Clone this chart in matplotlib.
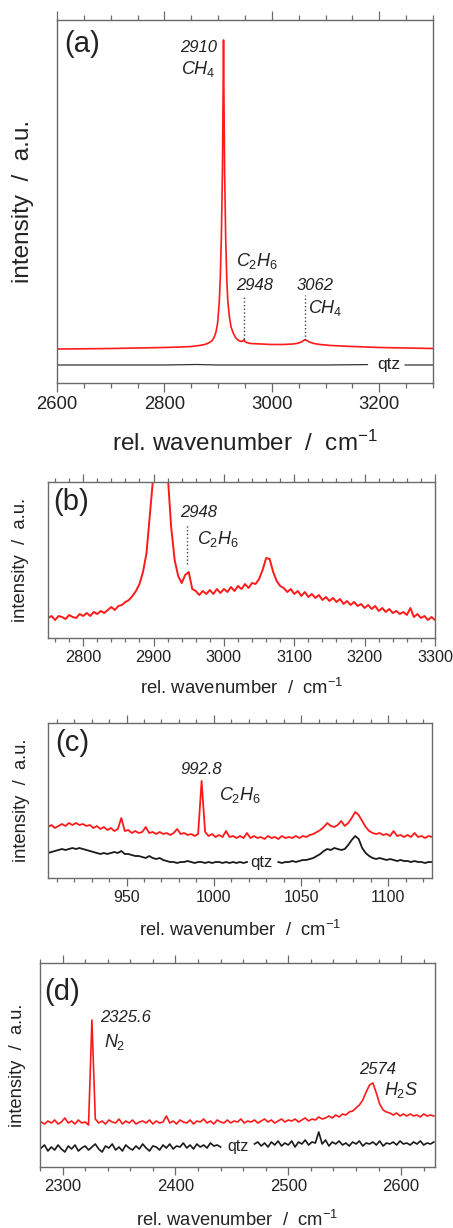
import numpy as np
import matplotlib
matplotlib.use("Agg")
import matplotlib.pyplot as plt
from matplotlib.ticker import MultipleLocator

plt.rcParams['font.family'] = ['Liberation Sans', 'DejaVu Sans']
plt.rcParams['mathtext.fontset'] = 'custom'
plt.rcParams['mathtext.rm'] = 'Liberation Sans'
plt.rcParams['mathtext.it'] = 'Liberation Sans:italic'

W, H = 453, 1228
FRAME = '#6a6a6a'
TXT = '#222222'
RED = '#ff1a1a'
BLK = '#1a1a1a'

# ---- panel (a): overview, 2600-3300 ----
a_x = [2600, 2650, 2700, 2750, 2800, 2830, 2850, 2865, 2875, 2882, 2888, 2892,
       2896, 2899, 2902, 2904, 2906, 2908, 2909, 2910, 2911, 2912, 2914, 2916,
       2918, 2921, 2924, 2928, 2933, 2938, 2943, 2946, 2948, 2950, 2953, 2960,
       2980, 3000, 3020, 3040, 3050, 3055, 3059, 3062, 3065, 3070, 3078, 3090,
       3110, 3150, 3200, 3250, 3300]
a_red = [34, 34.2, 34.5, 35, 35.5, 36, 36.5, 37.5, 38.5, 40, 42, 45,
         51, 60, 80, 105, 146, 212, 276, 343, 276, 212, 146, 105,
         82, 66, 56, 50, 45, 42.5, 41.5, 42, 43.5, 41.5, 40.5, 39.5,
         39, 38.5, 38.5, 39, 40, 41, 42.5, 43.5, 42.5, 41, 39.5, 38.5,
         37.5, 36.5, 35.5, 35, 34.5]
a_qtz_x = [2600, 2700, 2800, 2860, 2900, 3000, 3100, 3178, np.nan, 3248, 3300]
a_qtz = [18, 18, 18, 18.5, 18, 18, 18, 18.4, np.nan, 18, 18]
a_marks_x = [2948, 3062]
a_marks_top = [88, 88]
a_marks_bot = [44, 43]

# ---- panel (b): zoom of CH4 region ----
b_x = np.arange(2750, 3301, 5)
b_red = [20, 22, 18, 22, 21, 19, 23, 21, 20, 24, 22, 25, 22, 26, 24, 27, 25, 28,
         31, 28, 32, 33, 36, 38, 42, 47, 54, 66, 85, 125, 165, 400, 600, 400,
         165, 111, 78, 62, 55, 63, 66, 49, 47, 43, 47, 44, 48, 44, 49, 45, 49, 46,
         51, 47, 52, 49, 54, 50, 55, 54, 59, 68, 80, 79, 66, 57, 52, 50, 46, 49,
         44, 47, 42, 46, 41, 44, 40, 43, 38, 41, 37, 40, 36, 39, 34, 37, 33, 36,
         32, 34, 30, 33, 29, 32, 27, 30, 26, 29, 25, 27, 24, 26, 23, 30, 21, 24,
         20, 22, 18, 21, 18]
b_marks_x = [2948]
b_marks_top = [114]
b_marks_bot = [74]

# ---- panel (c): 905-1125 region ----
c_x = np.arange(905, 1126, 2)
c_red = [51, 53, 50, 52, 54, 52, 55, 53, 55, 53, 54, 52, 53, 50, 52, 49, 51, 48,
         50, 47, 49, 60, 47, 48, 45, 47, 45, 46, 51, 45, 46, 44, 46, 44, 45, 43,
         45, 49, 44, 45, 43, 44, 42, 44, 97, 46, 42, 44, 41, 43, 41, 47, 41, 42,
         40, 42, 40, 45, 40, 42, 40, 41, 39, 42, 40, 41, 39, 42, 40, 41, 40, 42,
         40, 42, 41, 43, 44, 46, 48, 51, 55, 52, 51, 53, 57, 52, 55, 60, 66, 63,
         57, 51, 47, 45, 44, 45, 43, 44, 42, 47, 42, 43, 41, 43, 41, 45, 41, 42,
         40, 42, 41]
c_qtz = [25, 26, 27, 28, 29, 28, 29, 30, 29, 30, 29, 28, 27, 26, 25, 24, 25, 24,
         25, 26, 25, 27, 24, 24, 23, 22, 22, 21, 20, 22, 20, 19, 20, 18, 17, 16,
         16, 15, 16, 16, 17, 16, 15, 16, 16, 15, 16, 15, 16, 16, 15, 16, 15, 16,
         15, 16, 15, 16, np.nan, np.nan, np.nan, np.nan, np.nan, np.nan, np.nan,
         np.nan, 16, 15, 16, 16, 17, 16, 17, 18, 18, 19, 20, 22, 24, 27, 29, 28,
         30, 29, 28, 29, 33, 38, 42, 39, 30, 25, 22, 20, 19, 20, 19, 18, 19, 18,
         17, 18, 17, 17, 16, 17, 16, 16, 15, 16, 16]

# ---- panel (d): 2281-2629 region ----
d_x = np.arange(2281, 2631, 3)
d_red = [45, 43, 46, 44, 47, 43, 45, 49, 44, 46, 43, 47, 44, 45, 42, 147, 48, 44,
         46, 43, 47, 45, 44, 48, 43, 46, 44, 47, 43, 45, 46, 44, 47, 43, 46, 44,
         45, 51, 44, 46, 43, 47, 45, 44, 47, 43, 46, 45, 48, 44, 46, 43, 47, 45,
         44, 47, 44, 46, 45, 48, 44, 46, 45, 47, 44, 46, 48, 45, 47, 44, 46, 48,
         45, 47, 46, 48, 45, 47, 49, 46, 48, 47, 50, 48, 49, 51, 49, 52, 50, 53,
         52, 55, 56, 59, 62, 67, 75, 82, 84, 74, 63, 57, 55, 54, 52, 54, 51, 53,
         51, 53, 51, 52, 50, 53, 51, 52, 51]
d_qtz = [19, 22, 16, 20, 17, 22, 18, 15, 21, 18, 22, 16, 19, 21, 17, 20, 23, 18,
         15, 21, 19, 23, 17, 20, 16, 22, 19, 17, 21, 18, 23, 19, 16, 21, 20, 17,
         22, 19, 23, 18, 21, 20, 24, 19, 22, 18, 23, 20, 22, 19, 24, 21, 22, 20,
         np.nan, np.nan, np.nan, np.nan, np.nan, np.nan, np.nan, np.nan, np.nan,
         23, 25, 21, 24, 20, 25, 22, 26, 21, 24, 22, 26, 20, 25, 23, 27, 22, 25,
         24, 35, 23, 27, 21, 25, 23, 26, 22, 24, 21, 25, 23, 26, 21, 24, 23, 25,
         22, 26, 21, 24, 23, 25, 22, 26, 23, 24, 22, 25, 23, 26, 22, 24, 23, 25]


def px_axes(fig, l, t, r, b):
    return fig.add_axes([l / W, (H - b) / H, (r - l) / W, (b - t) / H])


def style(ax, xlim, ylim, major, minor, tsize, maj_len=5.5, min_len=3.2):
    ax.set_xlim(*xlim)
    ax.set_ylim(*ylim)
    ax.set_yticks([])
    ax.xaxis.set_major_locator(MultipleLocator(major))
    ax.xaxis.set_minor_locator(MultipleLocator(minor))
    ax.tick_params(axis='x', which='both', top=True, bottom=True, direction='out',
                   color=FRAME, width=0.9, labelcolor=TXT, labelsize=tsize, pad=3)
    ax.tick_params(axis='x', which='major', length=maj_len)
    ax.tick_params(axis='x', which='minor', length=min_len)
    for s in ax.spines.values():
        s.set_color(FRAME)
        s.set_linewidth(1.0)


def labels(ax, size, xl_y, yl_x):
    ax.set_xlabel(r'rel. wavenumber  /  cm$^{\mathrm{-1}}$', fontsize=size, color=TXT)
    ax.xaxis.set_label_coords(0.5, xl_y)
    ax.xaxis.label.set_verticalalignment('center')
    ax.set_ylabel('intensity  /  a.u.', fontsize=size, color=TXT)
    ax.yaxis.set_label_coords(yl_x, 0.5)
    ax.yaxis.label.set_verticalalignment('center')


def note(ax, x, y, s, size=12, ha='left'):
    ax.text(x, y, s, style='italic', fontsize=size, ha=ha, va='center', color=TXT)


fig = plt.figure(figsize=(W / 100, H / 100), dpi=100)

# (a)
ax = px_axes(fig, 57, 20, 433, 383)
ax.plot(a_x, a_red, color=RED, lw=1.2)
ax.plot(a_qtz_x, a_qtz, color='#333333', lw=0.9)
ax.vlines(a_marks_x, a_marks_bot, a_marks_top, colors='#444444', linestyles=':', lw=1)
style(ax, (2600, 3300), (0, 363), 200, 50, 13.3, 6.5, 3.6)
labels(ax, 17.5, -0.165, -0.09)
ax.text(0.02, 0.935, '(a)', transform=ax.transAxes, fontsize=21, color=TXT, va='center')
note(ax, 2898, 335, '2910', ha='right')
note(ax, 2896, 314, r'$\mathit{CH}_{\mathit{4}}$', 13, ha='right')
note(ax, 2934, 122, r'$\mathit{C}_{\mathit{2}}\mathit{H}_{\mathit{6}}$', 13)
note(ax, 2933, 98, '2948')
note(ax, 3046, 98, '3062')
note(ax, 3067, 75, r'$\mathit{CH}_{\mathit{4}}$', 13)
ax.text(3217, 18, 'qtz', fontsize=12.5, ha='center', va='center', color=TXT)

# (b)
ax = px_axes(fig, 48, 482, 435, 638)
ax.plot(b_x, b_red, color=RED, lw=1.4)
ax.vlines(b_marks_x, b_marks_bot, b_marks_top, colors='#444444', linestyles=':', lw=1)
style(ax, (2750, 3300), (0, 156), 100, 20, 11.7)
labels(ax, 13.3, -0.32, -0.07)
ax.text(0.014, 0.87, '(b)', transform=ax.transAxes, fontsize=21, color=TXT, va='center')
note(ax, 2938, 125, '2948')
note(ax, 2962, 99, r'$\mathit{C}_{\mathit{2}}\mathit{H}_{\mathit{6}}$', 13)

# (c)
ax = px_axes(fig, 48, 723, 432, 878)
ax.plot(c_x, c_red, color=RED, lw=1.3)
ax.plot(c_x, c_qtz, color=BLK, lw=1.3)
style(ax, (905, 1125), (0, 155), 50, 10, 11.5)
labels(ax, 13.2, -0.335, -0.068)
ax.text(0.02, 0.87, '(c)', transform=ax.transAxes, fontsize=21, color=TXT, va='center')
note(ax, 992.8, 108, '992.8', ha='center')
note(ax, 1003, 83, r'$\mathit{C}_{\mathit{2}}\mathit{H}_{\mathit{6}}$', 13)
ax.text(1027, 16, 'qtz', fontsize=12, ha='center', va='center', color=TXT)

# (d)
ax = px_axes(fig, 40, 963, 435, 1167)
ax.plot(d_x, d_red, color=RED, lw=1.2)
ax.plot(d_x, d_qtz, color=BLK, lw=1.2)
style(ax, (2280, 2630), (0, 204), 100, 20, 12)
labels(ax, 13.2, -0.26, -0.056)
ax.text(0.01, 0.86, '(d)', transform=ax.transAxes, fontsize=21, color=TXT, va='center')
note(ax, 2333, 149, '2325.6')
note(ax, 2337, 125, r'$\mathit{N}_{\mathit{2}}$', 13)
note(ax, 2563, 97, '2574')
note(ax, 2585, 77, r'$\mathit{H}_{\mathit{2}}\mathit{S}$', 13)
ax.text(2455, 20, 'qtz', fontsize=11.5, ha='center', va='center', color=TXT)

fig.savefig('out.png', dpi=100)
